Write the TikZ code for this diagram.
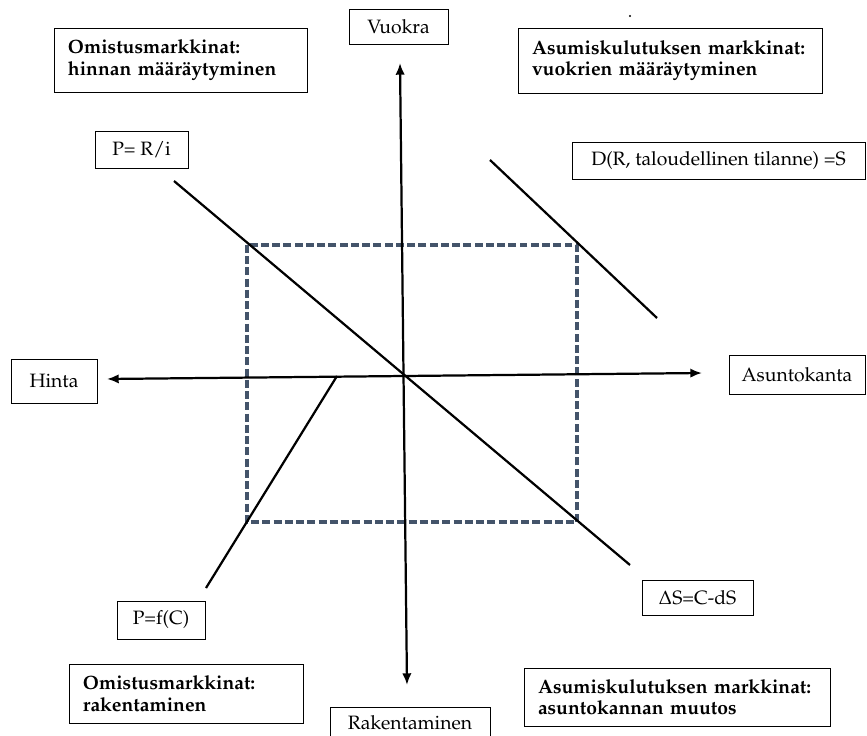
\documentclass[tikz,border=0pt]{standalone}
\usepackage[T1]{fontenc}
\usepackage{mathpazo}
\usetikzlibrary{arrows.meta}
\definecolor{kehys}{HTML}{44546A}

\begin{document}
\begin{tikzpicture}[x=0.03cm,y=-0.03cm,line width=1.9pt,
  box/.style={draw,line width=0.8pt,inner sep=0pt,align=center,
    font=\fontsize{16.5}{18.5}\selectfont},
  headbox/.style={draw,line width=0.8pt,inner xsep=0.42cm,inner ysep=0pt,
    align=left,font=\fontsize{16.5}{18.5}\selectfont\bfseries},
  axis/.style={{Latex[length=10pt,width=8pt]}-{Latex[length=10pt,width=8pt]}}]
\useasboundingbox (0,0) rectangle (867,736);
% 四个市场（粗体标题框）
\node[headbox,text width=6.75cm,minimum height=1.92cm] (hinnan) at (180.5,60)
  {\mbox{Omistusmarkkinat:}\\\mbox{hinnan määräytyminen}};
\node[headbox,text width=8.28cm,minimum height=1.95cm] (vuokrien) at (670,60.5)
  {\mbox{Asumiskulutuksen markkinat:}\\\mbox{vuokrien määräytyminen}};
\node[headbox,text width=6.18cm,minimum height=1.77cm] (raken) at (186,693.5)
  {\mbox{Omistusmarkkinat:}\\\mbox{rakentaminen}};
\node[headbox,text width=8.34cm,minimum height=1.74cm] (kanta) at (677,697)
  {\mbox{Asumiskulutuksen markkinat:}\\\mbox{asuntokannan muutos}};
% 坐标轴标签
\node[box,minimum width=2.97cm,minimum height=1.05cm] (vuokra) at (398.5,26.5) {Vuokra};
\node[box,minimum width=2.58cm,minimum height=1.32cm] (hinta) at (54,381) {Hinta};
\node[box,minimum width=4.08cm,minimum height=1.17cm] (asuntokanta) at (797,374.5) {Asuntokanta};
\node[box,minimum width=4.8cm,minimum height=0.96cm] (rakentaminen) at (410,723) {Rakentaminen};
% 曲线标签
\node[box,minimum width=2.79cm,minimum height=1.11cm] (pri) at (141.5,149.5) {P= R/i};
\node[box,minimum width=8.79cm,minimum height=1.11cm] (dr) at (718.5,160.5) {D(R, taloudellinen tilanne) =S};
\node[box,minimum width=2.64cm,minimum height=1.14cm] (pfc) at (161,620) {P=f(C)};
\node[box,minimum width=3.33cm,minimum height=1.05cm] (ds) at (697.5,597.5) {$\Delta$S=C-dS};
% 小点
\fill (630,16) circle[radius=0.035cm];
% 虚线矩形（均衡）
\draw[kehys,line width=2.8pt,dash pattern=on 6.8pt off 2.8pt] (247,245) rectangle (577,522);
% 坐标轴
\coordinate (ylos) at (400,63);
\coordinate (alas) at (407,685);
\coordinate (vasen) at (107,379);
\coordinate (oikea) at (702,373);
\draw[axis] (alas) -- (ylos);
\draw[axis] (vasen) -- (oikea);
% 三条直线
\coordinate (pri1) at (174,181);
\coordinate (pri2) at (630,565);
\draw (pri1) -- (pri2);
\coordinate (dr1) at (490,160);
\coordinate (dr2) at (657,318);
\draw (dr1) -- (dr2);
\coordinate (pfc1) at (337,376);
\coordinate (pfc2) at (206,588);
\draw (pfc1) -- (pfc2);
\end{tikzpicture}
\end{document}
